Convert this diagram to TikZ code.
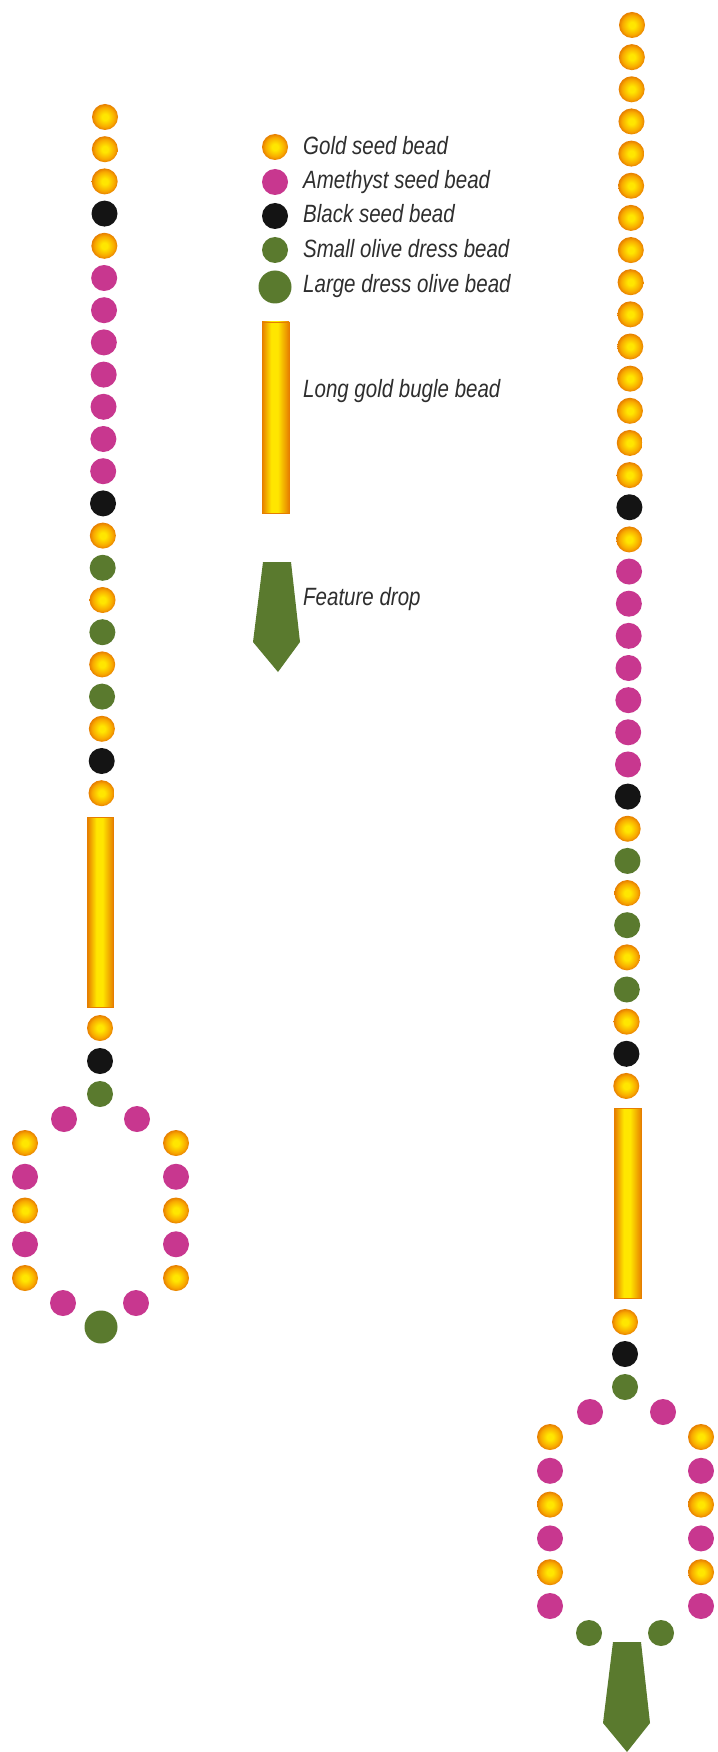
\documentclass[tikz,border=0pt]{standalone}
\usepackage{fontspec}
\newfontfamily\legfont{Liberation Sans}[FakeStretch=0.82]
\definecolor{gyel}{HTML}{FFE600}
\definecolor{gora}{HTML}{F8A800}
\definecolor{gdark}{HTML}{E67E00}
\definecolor{amet}{HTML}{C8378F}
\definecolor{olive}{HTML}{5A7A2E}
\definecolor{blk}{HTML}{141414}
\definecolor{txt}{HTML}{2E2E2E}
\pgfdeclareradialshading{goldball}{\pgfpoint{0bp}{0bp}}{color(0bp)=(gyel); color(6bp)=(gyel); color(19bp)=(gora); color(25bp)=(gdark); color(50bp)=(gdark)}
\pgfdeclarehorizontalshading{bugleshade}{100bp}{color(0bp)=(gdark); color(25bp)=(gdark); color(42bp)=(gyel); color(54bp)=(gyel); color(75bp)=(gdark); color(100bp)=(gdark)}
\begin{document}
\begin{tikzpicture}[x=1pt,y=-1pt,
  bead/.style={circle,inner sep=0pt,minimum size=26pt,draw=none},
  gb/.style={bead,shade,shading=goldball},
  ab/.style={bead,fill=amet},
  kb/.style={bead,fill=blk},
  ob/.style={bead,fill=olive},
  bigob/.style={bead,fill=olive,minimum size=33pt},
  bugle/.style={rectangle,inner sep=0pt,minimum width=26pt,minimum height=190pt,shade,shading=bugleshade,draw=gdark,line width=0.6pt},
  dropshape/.style={fill=olive},
  legtext/.style={anchor=base west,inner sep=0pt,text=txt,font=\legfont\itshape\fontsize{25}{30}\selectfont}]
\useasboundingbox (0,0) rectangle (717,1752);
\fill[white] (0,0) rectangle (717,1752);

% ---------- left strand ----------
\foreach \bt [count=\i from 0] in {g,g,g,k,g,a,a,a,a,a,a,a,k,g,o,g,o,g,o,g,k,g}{
  \pgfmathsetmacro\yy{117+32.2*\i}
  \pgfmathsetmacro\xx{105-5*(\yy-117)/977}
  \node[\bt b] (L\i) at (\xx,\yy) {};
}
\node[bugle] (Lbug) at (100.5,912) {};
\node[gb] (L22) at (100,1028) {};
\node[kb] (L23) at (100,1061) {};
\node[ob] (L24) at (100,1094) {};
% left hexagon
\node[ab] (LHt1) at (64,1119) {};
\node[ab] (LHt2) at (137,1119) {};
\foreach \bt [count=\i] in {g,a,g,a,g}{
  \pgfmathsetmacro\yy{1143+33.75*(\i-1)}
  \node[\bt b] (LHl\i) at (25,\yy) {};
  \node[\bt b] (LHr\i) at (176,\yy) {};
}
\node[ab] (LHb1) at (63,1303) {};
\node[ab] (LHb2) at (136,1303) {};
\node[bigob] (LHbig) at (101,1327) {};

% ---------- right strand ----------
\foreach \bt [count=\i from 0] in {g,g,g,g,g,g,g,g,g,g,g,g,g,g,g,k,g,a,a,a,a,a,a,a,k,g,o,g,o,g,o,g,k,g}{
  \pgfmathsetmacro\yy{25+32.15*\i}
  \pgfmathsetmacro\xx{632-7*(\yy-25)/1297}
  \node[\bt b] (R\i) at (\xx,\yy) {};
}
\node[bugle,minimum width=27pt] (Rbug) at (628,1203) {};
\node[gb] (R34) at (625,1322) {};
\node[kb] (R35) at (625,1354) {};
\node[ob] (R36) at (625,1387) {};
% right hexagon
\node[ab] (RHt1) at (590,1412) {};
\node[ab] (RHt2) at (663,1412) {};
\foreach \bt [count=\i] in {g,a,g,a,g,a}{
  \pgfmathsetmacro\yy{1437+33.8*(\i-1)}
  \node[\bt b] (RHl\i) at (550,\yy) {};
  \node[\bt b] (RHr\i) at (701,\yy) {};
}
\node[ob] (RHb1) at (589,1633) {};
\node[ob] (RHb2) at (661,1633) {};
\fill[dropshape] (613,1642) -- (641,1642) -- (650,1723) -- (627,1752) -- (603,1723) -- cycle;

% ---------- legend ----------
\node[gb] (K1) at (275,147) {};
\node[ab] (K2) at (275,182) {};
\node[kb] (K3) at (275,216) {};
\node[ob] (K4) at (275,250) {};
\node[bigob] (K5) at (275,287) {};
\node[bugle,minimum width=27pt,minimum height=191pt] (K6) at (275.5,417.5) {};
\fill[dropshape] (263,562) -- (291,562) -- (300,642) -- (278,672) -- (253,642) -- cycle;

\node[legtext] (T1) at (303,155) {Gold seed bead};
\node[legtext] (T2) at (303,189) {Amethyst seed bead};
\node[legtext] (T3) at (303,223) {Black seed bead};
\node[legtext] (T4) at (303,258) {Small olive dress bead};
\node[legtext] (T5) at (303,293) {Large dress olive bead};
\node[legtext] (T6) at (303,397) {Long gold bugle bead};
\node[legtext] (T7) at (303,605) {Feature drop};
\end{tikzpicture}
\end{document}
